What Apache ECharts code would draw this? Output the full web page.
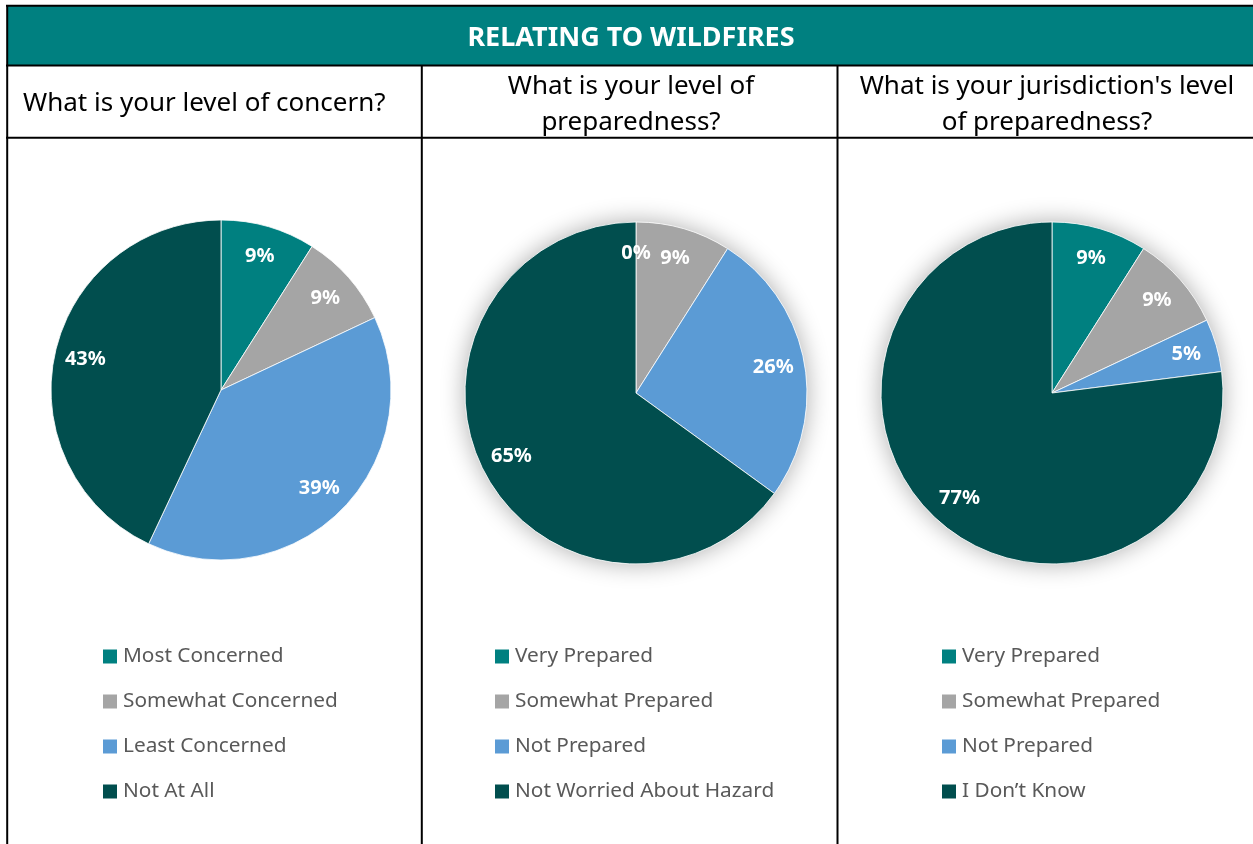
<!DOCTYPE html>
<html>
<head>
<meta charset="utf-8">
<script src="https://cdn.jsdelivr.net/npm/echarts@6/dist/echarts.min.js"></script>
<style>
  html, body { margin: 0; padding: 0; background: #fff; }
  #chart { width: 1253px; height: 844px; }
</style>
</head>
<body>
<div id="chart"></div>
<script>
// data (percent of respondents)
var concernNames = ['Most Concerned', 'Somewhat Concerned', 'Least Concerned', 'Not At All']
var concernValues = [9, 9, 39, 43]
var prepNames = ['Very Prepared', 'Somewhat Prepared', 'Not Prepared', 'Not Worried About Hazard']
var prepValues = [0, 9, 26, 65]
var jurisNames = ['Very Prepared', 'Somewhat Prepared', 'Not Prepared', 'I Don’t Know']
var jurisValues = [9, 9, 5, 77]
var questions = [
  'What is your level of concern?',
  'What is your level of\npreparedness?',
  'What is your jurisdiction\'s level\nof preparedness?'
]
var sliceColors = ['#008080', '#A5A5A5', '#5B9BD5', '#014E4E']

var font = 'Noto Sans'

function toData(names, values) {
  return names.map(function(n, i) {
    return { name: n, value: values[i], itemStyle: { color: sliceColors[i] } }
  })
}

// base pie + transparent overlay that only carries the labels (puts them near the rim)
function pieSeries(names, values, center, r, withShadow) {
  var out = []
  out.push({
    type: 'pie',
    center: center,
    radius: [0, r],
    startAngle: 90,
    clockwise: true,
    silent: true,
    label: { show: false },
    labelLine: { show: false },
    itemStyle: { borderColor: '#fff', borderWidth: 0.8 },
    data: toData(names, values),
    z: 3
  })
  if (withShadow) {
    out.push({
      type: 'pie',
      center: center,
      radius: [0, r],
      silent: true,
      label: { show: false },
      itemStyle: { color: '#fff', shadowBlur: 24, shadowColor: 'rgba(0,0,0,0.33)' },
      data: [{ value: 1, name: '' }],
      z: 1
    })
  }
  out.push({
    type: 'pie',
    center: center,
    radius: [r * 0.6, r],
    startAngle: 90,
    clockwise: true,
    silent: true,
    legendHoverLink: false,
    itemStyle: { color: 'rgba(0,0,0,0)' },
    label: {
      show: true,
      position: 'inside',
      formatter: '{c}%',
      color: '#fff',
      fontFamily: font,
      fontWeight: 'bold',
      fontSize: 20
    },
    labelLine: { show: false },
    data: names.map(function(n, i) { return { name: n, value: values[i] } }),
    z: 5
  })
  return out
}

function legendAt(names, left) {
  return {
    orient: 'vertical',
    left: left,
    top: 646,
    padding: 0,
    icon: 'rect',
    itemWidth: 14,
    itemHeight: 14,
    itemGap: 24,
    selectedMode: false,
    textStyle: {
      fontFamily: font,
      fontSize: 20.8,
      color: '#595959',
      lineHeight: 20,
      padding: [0, 0, 0, 1]
    },
    data: names.map(function(n, i) {
      return { name: n, itemStyle: { color: sliceColors[i], borderWidth: 0 } }
    })
  }
}

var chart = echarts.init(document.getElementById('chart'))

var series = []
  .concat(pieSeries(concernNames, concernValues, [221, 390], 170, false))
  .concat(pieSeries(prepNames, prepValues, [636, 393], 171, true))
  .concat(pieSeries(jurisNames, jurisValues, [1052, 393], 171, true))

chart.setOption({
  backgroundColor: '#fff',
  animation: false,
  title: [
    {
      text: 'RELATING TO WILDFIRES',
      left: 631, top: 22, textAlign: 'center', padding: 0,
      textStyle: { color: '#fff', fontFamily: font, fontWeight: 'bold', fontSize: 27, lineHeight: 32 }
    },
    {
      text: questions[0],
      left: 23, top: 88, padding: 0,
      textStyle: { color: '#000', fontFamily: font, fontWeight: 'normal', fontSize: 26, lineHeight: 32 }
    },
    {
      text: questions[1],
      left: 631, top: 69, textAlign: 'center', padding: 0,
      textStyle: { color: '#000', fontFamily: font, fontWeight: 'normal', fontSize: 26, lineHeight: 36, align: 'center' }
    },
    {
      text: questions[2],
      left: 1047, top: 69, textAlign: 'center', padding: 0,
      textStyle: { color: '#000', fontFamily: font, fontWeight: 'normal', fontSize: 26, lineHeight: 36, align: 'center' }
    }
  ],
  legend: [
    legendAt(concernNames, 103),
    legendAt(prepNames, 495),
    legendAt(jurisNames, 942)
  ],
  // table frame
  graphic: [
    { type: 'rect', z: 0, shape: { x: 7, y: 6, width: 1246, height: 59 }, style: { fill: '#008080' } },
    { type: 'line', z: 10, shape: { x1: 6, y1: 5.8, x2: 1253, y2: 5.8 }, style: { stroke: '#000', lineWidth: 2 } },
    { type: 'line', z: 10, shape: { x1: 6, y1: 65.5, x2: 1253, y2: 65.5 }, style: { stroke: '#000', lineWidth: 2 } },
    { type: 'line', z: 10, shape: { x1: 6, y1: 137.8, x2: 1253, y2: 137.8 }, style: { stroke: '#000', lineWidth: 2 } },
    { type: 'line', z: 10, shape: { x1: 7.2, y1: 5, x2: 7.2, y2: 844 }, style: { stroke: '#000', lineWidth: 2 } },
    { type: 'line', z: 10, shape: { x1: 421.8, y1: 65, x2: 421.8, y2: 844 }, style: { stroke: '#000', lineWidth: 2 } },
    { type: 'line', z: 10, shape: { x1: 837.5, y1: 65, x2: 837.5, y2: 844 }, style: { stroke: '#000', lineWidth: 2 } }
  ],
  series: series
})
</script>
</body>
</html>
